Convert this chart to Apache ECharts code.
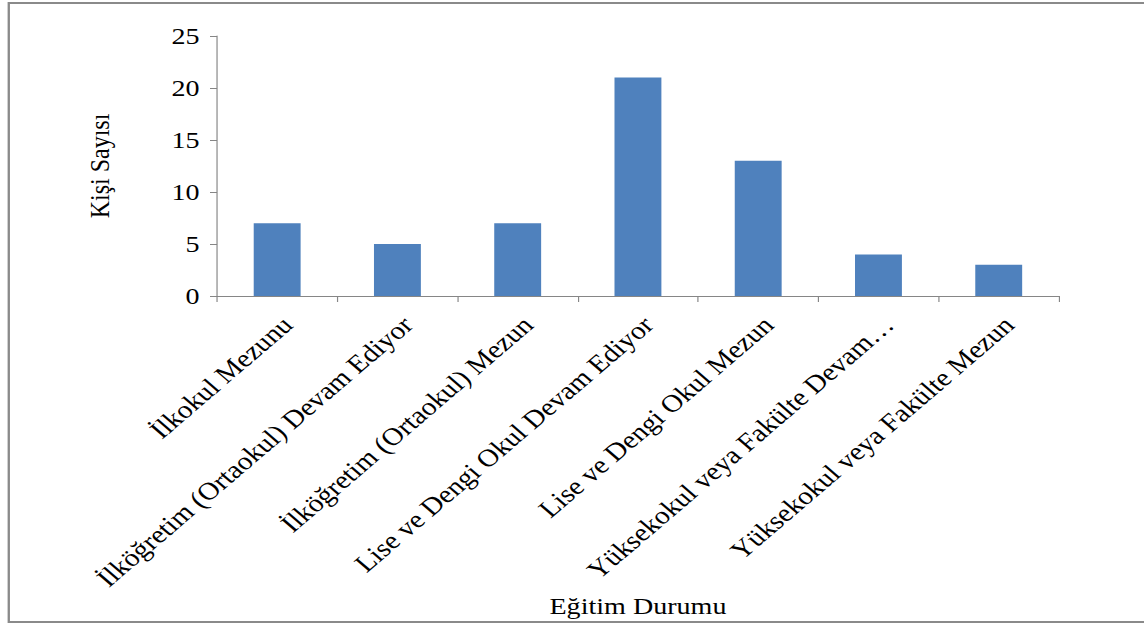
<!DOCTYPE html>
<html>
<head>
<meta charset="utf-8">
<script src="https://cdn.jsdelivr.net/npm/echarts@6/dist/echarts.min.js"></script>
<style>
  html, body { margin: 0; padding: 0; background: #fff; }
  #wrap { width: 1144px; height: 624px; overflow: hidden; position: relative; }
  #chart { width: 978px; height: 624px; transform: scaleX(1.17); transform-origin: 0 0; }
</style>
</head>
<body>
<div id="wrap"><div id="chart"></div></div>
<script>
// Education level categories and number of people in each
const categories = [
  'İlkokul Mezunu',
  'İlköğretim (Ortaokul) Devam Ediyor',
  'İlköğretim (Ortaokul) Mezun',
  'Lise ve Dengi Okul Devam Ediyor',
  'Lise ve Dengi Okul Mezun',
  'Yüksekokul veya Fakülte Devam Ediyor',
  'Yüksekokul veya Fakülte Mezun'
];
const counts = [7, 5, 7, 21, 13, 4, 3];
const yTicks = { min: 0, max: 25, interval: 5 };

const FONT = '"Liberation Serif", "Times New Roman", serif';
const AXIS_GRAY = '#868686';

const chart = echarts.init(document.getElementById('chart'), null, { renderer: 'svg' });

chart.setOption({
  animation: false,
  backgroundColor: '#fff',
  graphic: [{
    type: 'rect',
    shape: { x: 7.5, y: 3, width: 1000, height: 619 },
    style: { fill: 'none', stroke: '#8a8a8a', lineWidth: 2 },
    silent: true
  }],
  grid: { left: 185.5, right: 73, top: 36, bottom: 328 },
  xAxis: {
    type: 'category',
    data: categories,
    name: 'Eğitim Durumu',
    nameLocation: 'middle',
    nameGap: 297,
    nameTextStyle: { fontFamily: FONT, fontSize: 24, color: '#000' },
    axisLine: { lineStyle: { color: AXIS_GRAY, width: 1 } },
    axisTick: { show: true, length: 6, alignWithLabel: false, lineStyle: { color: AXIS_GRAY } },
    axisLabel: {
      interval: 0,
      rotate: 45,
      margin: 16,
      verticalAlign: 'top',
      fontFamily: FONT,
      fontSize: 25,
      color: '#000',
      formatter: function (v) {
        return v.length > 34 ? v.slice(0, 29) + '…' : v;
      }
    },
    splitLine: { show: false }
  },
  yAxis: {
    type: 'value',
    min: yTicks.min,
    max: yTicks.max,
    interval: yTicks.interval,
    name: 'Kişi Sayısı',
    nameLocation: 'middle',
    nameGap: 88,
    nameTextStyle: { fontFamily: FONT, fontSize: 24, color: '#000' },
    axisLine: { show: true, lineStyle: { color: AXIS_GRAY, width: 1 } },
    axisTick: { show: true, length: 6, lineStyle: { color: AXIS_GRAY } },
    axisLabel: { margin: 15, fontFamily: FONT, fontSize: 24, color: '#000' },
    splitLine: { show: false }
  },
  series: [{
    type: 'bar',
    data: counts,
    barWidth: '39%',
    itemStyle: { color: '#4F81BD' }
  }]
});
</script>
</body>
</html>
